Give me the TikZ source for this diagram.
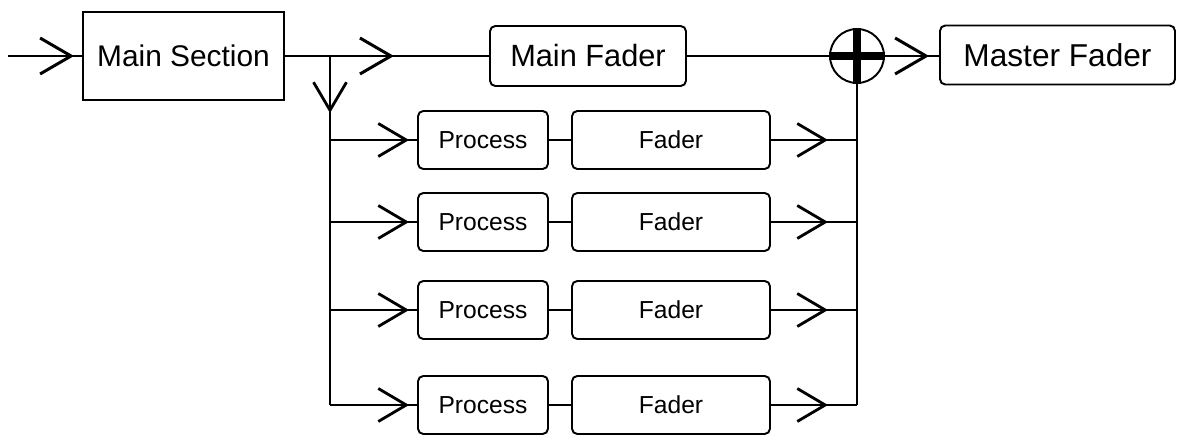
\documentclass[tikz,border=0pt]{standalone}
\usepackage{fontspec}
\setmainfont{Liberation Sans}
\usetikzlibrary{arrows.meta,decorations.markings}

\tikzset{
  sqbox/.style={draw, line width=1.1pt, inner sep=0pt, font=\fontsize{17}{20}\selectfont},
  rbox/.style={draw, line width=1.1pt, rounded corners=3pt, inner sep=0pt},
  wire/.style={line width=1.1pt},
  chev/.style={postaction={decorate}, decoration={markings,
      mark=at position #1 with {\arrow{Straight Barb[length=0.62cm, width=0.72cm, line width=1.7pt]}}}},
  smallchev/.style={postaction={decorate}, decoration={markings,
      mark=at position #1 with {\arrow{Straight Barb[length=0.56cm, width=0.66cm, line width=1.6pt]}}}}
}

\begin{document}
\begin{tikzpicture}[x=0.02cm, y=-0.02cm]
        \useasboundingbox (0,0) rectangle (1181,442);

        % Top chain
        \coordinate (in) at (8,56);
        \node[sqbox, minimum width=4.02cm, minimum height=1.76cm] (main) at (183.5,56) {Main Section};
        \node[rbox, minimum width=3.92cm, minimum height=1.2cm, font=\fontsize{17.5}{20}\selectfont] (mainfader) at (588,56) {Main Fader};
        \node[circle, draw, line width=1.1pt, minimum size=1.08cm, inner sep=0pt] (sum) at (857,56) {};
        \draw[line width=4pt] (sum.north) -- (sum.south) (sum.west) -- (sum.east);
        \node[rbox, minimum width=4.7cm, minimum height=1.18cm, font=\fontsize{18}{21}\selectfont] (master) at (1057.5,55) {Master Fader};

        \draw[wire, chev=-0.16cm] (in) -- (main.west);
        \draw[wire, chev=2.18cm] (main.east) -- (mainfader.west);
        \draw[wire] (mainfader.east) -- (sum.west);
        \draw[wire, chev=-0.2cm] (sum.east) -- (master.west |- sum.east);

        % Buses
        \coordinate (split) at (330,56);
        \coordinate (lbus) at (330,405);
        \coordinate (rbus) at (857,405);
        \draw[wire, smallchev=1.14cm] (split) -- (lbus);
        \draw[wire] (sum.south) -- (rbus);

        % Parallel paths
        \foreach \y [count=\i] in {140,222,310,405} {
          \node[rbox, minimum width=2.6cm, minimum height=1.16cm, font=\fontsize{14}{17}\selectfont] (proc\i) at (483,\y) {Process};
          \node[rbox, minimum width=3.96cm, minimum height=1.16cm, font=\fontsize{14}{17}\selectfont] (fader\i) at (671,\y) {Fader};
          \draw[wire, smallchev=-0.16cm] (330,\y) -- (proc\i.west);
          \draw[wire] (proc\i) -- (fader\i);
          \draw[wire, smallchev=-0.58cm] (fader\i.east) -- (857,\y);
        }
    \end{tikzpicture}
\end{document}
